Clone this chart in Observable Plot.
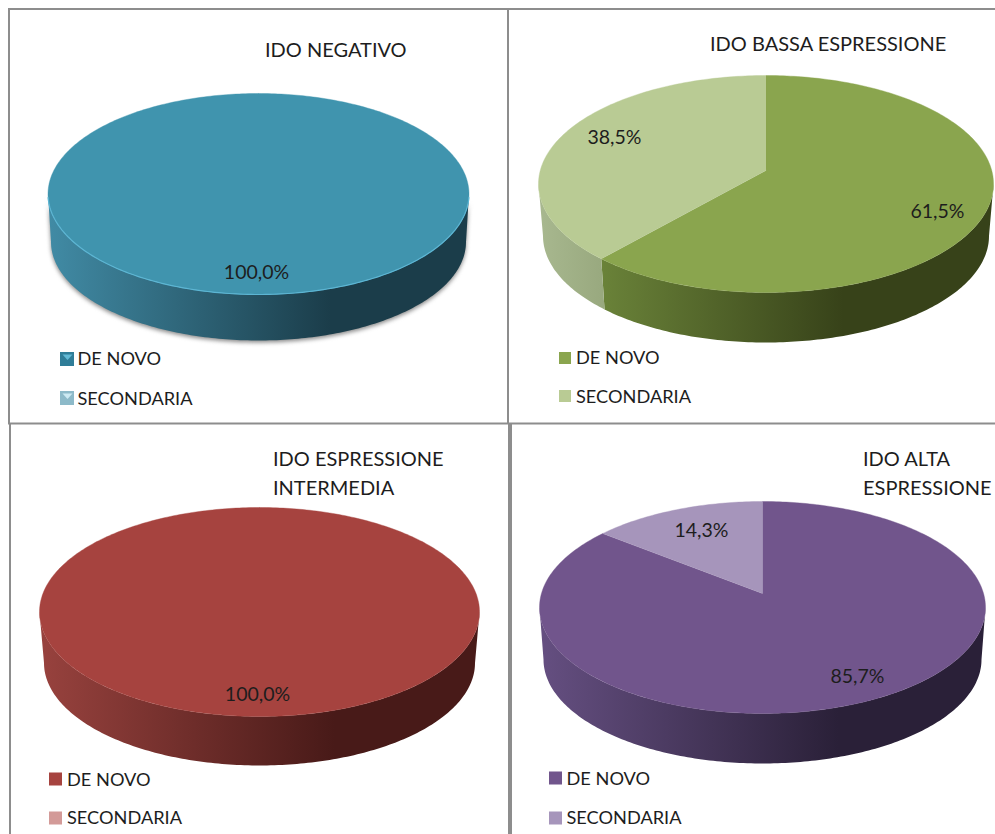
<!DOCTYPE html>
<html>
<head>
<meta charset="utf-8">
<script src="https://cdn.jsdelivr.net/npm/d3@7"></script>
<script src="https://cdn.jsdelivr.net/npm/@observablehq/plot@0.6"></script>
<style>
  html, body { margin: 0; padding: 0; background: #fff; overflow: hidden; }
  svg { display: block; }
</style>
</head>
<body>
<div id="chart"></div>
<script>
// Values per group: share of patients, in percent
const groups = ["IDO NEGATIVO", "IDO BASSA ESPRESSIONE", "IDO ESPRESSIONE\nINTERMEDIA", "IDO ALTA\nESPRESSIONE"];
const deNovo = [100, 61.5, 100, 85.7];
const secondaria = [0, 38.5, 0, 14.3];
const seriesNames = ["DE NOVO", "SECONDARIA"];

// Pie geometry: ellipse of the top face, wall depth and perspective shift of the centre
const pies = [
  {cx: 258, cy: 193.5, rx: 210.5, ry: 100.5, depth: 46, tilt: 0.125, inset: 3},
  {cx: 765.5, cy: 183.5, rx: 227.5, ry: 108.5, depth: 50, tilt: 0.125, inset: 4.5},
  {cx: 259, cy: 611.5, rx: 220, ry: 104.5, depth: 49, tilt: 0.125, inset: 4.5},
  {cx: 762, cy: 607, rx: 223, ry: 106, depth: 50, tilt: 0.132, inset: 4}
];

// Colours: top face, then left and right ends of the shaded wall
const topColors = [["#4094ae", "#93c5d5"], ["#8aa54e", "#b9cb94"], ["#a6433f", "#d39a98"], ["#71558c", "#a695bb"]];
const wallLight = [["#418ba5", "#93c5d5"], ["#779341", "#a8b88f"], ["#98423e", "#d39a98"], ["#654f81", "#a695bb"]];
const wallDark = [["#1b3d4a", "#3a6a7a"], ["#374219", "#5f7042"], ["#481a18", "#7a3a38"], ["#2a2038", "#5c4c70"]];

// Layout of the text and legends
const titleAnchors = [[264.5, 47], [709.5, 41], [272.5, 470.5], [862.5, 470.5]];
const labelAnchors = [[[256, 272], null], [[937, 211], [614, 137.5]], [[257, 694], null], [[857, 676], [701, 530]]];
const legendAnchors = [
  {x: 60, size: 14, textX: 77, rows: [359, 398], textRows: [359, 399]},
  {x: 559, size: 12, textX: 575.5, rows: [358, 396], textRows: [358, 397]},
  {x: 49, size: 13, textX: 66.5, rows: [779, 818], textRows: [780, 818]},
  {x: 549, size: 13, textX: 566, rows: [778, 818], textRows: [779, 818]}
];

const fontFamily = "Lato, 'Open Sans', sans-serif";
const inkColor = "#1d1d1d";
const frameColor = "#8d8d8d";

// Circle-preserving projective shift: moves the pie centre up inside its ellipse
function rimPoint(p, t) {
  const u = Math.sin(t), v = Math.cos(t), k = 1 + p.tilt * v;
  return {u: u * Math.sqrt(1 - p.tilt * p.tilt) / k, v: (v + p.tilt) / k};
}
const onTop = (p, u, v) => ({x: p.cx + p.rx * u, y: p.cy - p.ry * v});
const onBase = (p, u, v) => ({
  x: p.cx + (p.rx - p.inset) * u,
  y: p.cy + p.depth + 2 - (p.ry - 2) * v
});

function topFace(p, start, end) {
  const pts = [];
  const a0 = start * 3.6 * Math.PI / 180, a1 = end * 3.6 * Math.PI / 180;
  const n = Math.max(2, Math.ceil((end - start) * 3.6));
  if (end - start < 100) pts.push(onTop(p, 0, p.tilt));
  for (let i = 0; i <= n; ++i) {
    const r = rimPoint(p, a0 + (a1 - a0) * i / n);
    pts.push(onTop(p, r.u, r.v));
  }
  return pts;
}

// Outer wall of a slice, limited to the front half of the rim
function wall(p, start, end) {
  const phi = (pct) => {
    if (pct >= 100) return 2 * Math.PI;
    const r = rimPoint(p, pct * 3.6 * Math.PI / 180);
    const a = Math.atan2(r.u, r.v);
    return a < 0 ? a + 2 * Math.PI : a;
  };
  const lo = Math.max(phi(start), Math.PI / 2), hi = Math.min(phi(end), 3 * Math.PI / 2);
  if (hi <= lo) return null;
  const n = Math.ceil((hi - lo) * 180 / Math.PI);
  const upper = [], lower = [];
  for (let i = 0; i <= n; ++i) {
    const a = lo + (hi - lo) * i / n;
    upper.push(onTop(p, Math.sin(a), Math.cos(a)));
    lower.push(onBase(p, Math.sin(a), Math.cos(a)));
  }
  return upper.concat(lower.reverse());
}

const formatShare = (v) => d3.format(".1f")(v).replace(".", ",") + "%";

// Wall gradients live in a shared <defs> block
const gradients = () => {
  const defs = d3.create("svg:defs");
  pies.forEach((p, i) => {
    [0, 1].forEach((s) => {
      const g = defs.append("linearGradient")
        .attr("id", `wall-${i}-${s}`)
        .attr("gradientUnits", "userSpaceOnUse")
        .attr("x1", p.cx - p.rx).attr("x2", p.cx + 0.34 * p.rx)
        .attr("y1", 0).attr("y2", 0);
      g.append("stop").attr("offset", 0).attr("stop-color", wallLight[i][s]);
      g.append("stop").attr("offset", 1).attr("stop-color", wallDark[i][s]);
    });
  });
  return defs.node();
};

const marks = [gradients];

// Panel frame
const frameH = [[8, 995, 8.5, 2], [8, 995, 423, 2]];
const frameV = [[8.5, 8, 423, 2], [507.5, 8, 423, 2], [9.5, 423, 834, 2], [509.5, 423, 834, 4]];
frameH.forEach(([x1, x2, y, w]) => marks.push(Plot.ruleY([y], {x1, x2, stroke: frameColor, strokeWidth: w})));
frameV.forEach(([x, y1, y2, w]) => marks.push(Plot.ruleX([x], {y1, y2, stroke: frameColor, strokeWidth: w})));

pies.forEach((p, i) => {
  const shares = [deNovo[i], secondaria[i]];
  const spans = [[0, shares[0]], [shares[0], shares[0] + shares[1]]];

  // The first pie sits on a soft shadow
  if (i === 0) {
    const outline = wall(p, 0, 100).map((d) => ({x: d.x, y: d.y + 2}));
    marks.push(Plot.line(outline, {x: "x", y: "y", fill: "#8a8a8a", stroke: "none", imageFilter: "blur(2px)"}));
  }

  // Walls, then top faces
  shares.forEach((value, s) => {
    if (value <= 0) return;
    const w = wall(p, spans[s][0], spans[s][1]);
    if (w) marks.push(Plot.line(w, {x: "x", y: "y", fill: `url(#wall-${i}-${s})`, stroke: "none"}));
  });
  shares.forEach((value, s) => {
    if (value <= 0) return;
    marks.push(Plot.line(topFace(p, spans[s][0], spans[s][1]), {
      x: "x", y: "y", fill: topColors[i][s], stroke: topColors[i][s], strokeWidth: 0.4
    }));
  });

  // Bevel highlight along the front edge of the first pie
  if (i === 0) {
    const edge = d3.range(92, 269).map((deg) => {
      const a = deg * Math.PI / 180;
      return onTop(p, Math.sin(a), Math.cos(a));
    });
    marks.push(Plot.line(edge, {x: "x", y: "y", stroke: "#5cb5d3", strokeWidth: 1.2}));
  }

  // Value labels
  shares.forEach((value, s) => {
    const at = labelAnchors[i][s];
    if (value <= 0 || !at) return;
    marks.push(Plot.text([formatShare(value)], {
      x: at[0], y: at[1], text: (d) => d, fill: inkColor,
      fontFamily, fontSize: 19.5, textAnchor: "middle"
    }));
  });

  // Title
  marks.push(Plot.text([groups[i]], {
    x: titleAnchors[i][0], y: titleAnchors[i][1], text: (d) => d, fill: inkColor,
    fontFamily, fontSize: 20, textAnchor: "start", lineHeight: 1.45
  }));

  // Legend
  const lg = legendAnchors[i];
  seriesNames.forEach((name, s) => {
    const y0 = lg.rows[s] - lg.size / 2, y1 = lg.rows[s] + lg.size / 2;
    if (i === 0) {
      const base = s === 0 ? "#2f7d98" : "#8dbac9";
      const glint = s === 0 ? "#62bad6" : "#cdeaf3";
      marks.push(Plot.rect([name], {x1: lg.x, x2: lg.x + lg.size, y1: y0, y2: y1, fill: base}));
      marks.push(Plot.line([
        {x: lg.x + 2, y: y0 + 2}, {x: lg.x + lg.size - 2, y: y0 + 2}, {x: lg.x + lg.size / 2, y: y0 + 7.5}
      ], {x: "x", y: "y", fill: glint, stroke: "none"}));
    } else {
      marks.push(Plot.rect([name], {x1: lg.x, x2: lg.x + lg.size, y1: y0, y2: y1, fill: topColors[i][s]}));
    }
    marks.push(Plot.text([name], {
      x: lg.textX, y: lg.textRows[s], text: (d) => d, fill: inkColor,
      fontFamily, fontSize: 18.2, textAnchor: "start"
    }));
  });
});

const chart = Plot.plot({
  width: 995,
  height: 834,
  margin: 0,
  x: {domain: [0, 995], range: [0, 995], axis: null},
  y: {domain: [0, 834], range: [0, 834], axis: null},
  style: {background: "#fff"},
  marks
});
document.getElementById("chart").append(chart);
</script>
</body>
</html>
